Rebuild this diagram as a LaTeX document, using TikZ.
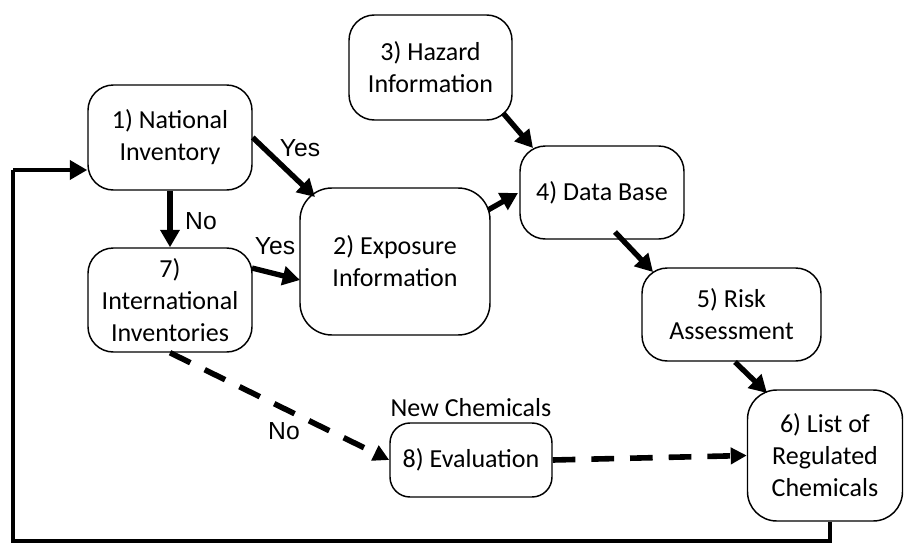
\documentclass[tikz,border=0pt]{standalone}
\usepackage{fontspec}
\setmainfont{Carlito}
\newfontfamily\arialf{Liberation Sans}
\usetikzlibrary{arrows.meta,calc}
\begin{document}
\begin{tikzpicture}[x=0.75pt,y=-0.75pt,
  box/.style={draw=black,line width=1.1pt,rounded corners=19pt,align=center,
    font=\fontsize{19.5}{24}\selectfont,inner sep=2pt},
  arr/.style={line width=4pt,-{Triangle[length=13pt,width=14pt]}},
  darr/.style={line width=4.2pt,dash pattern=on 17pt off 12pt,-{Triangle[length=12pt,width=12pt]}},
  loopline/.style={line width=3.6pt},
  lbl/.style={font=\arialf\fontsize{18.5}{22}\selectfont,inner sep=0pt},
  txt/.style={font=\fontsize{19.5}{24}\selectfont,inner sep=0pt}]
\useasboundingbox (0,0) rectangle (904,543);
\node[box,minimum width=123pt,minimum height=78.75pt] (b1) at (170,137.5) {1) National\\Inventory};
\node[box,minimum width=122.25pt,minimum height=78.75pt] (b3) at (430.5,67.5) {3) Hazard\\Information};
\node[box,minimum width=123pt,minimum height=69.75pt] (b4) at (602,192.5) {4) Data Base};
\node[box,minimum width=142.5pt,minimum height=110.25pt,rounded corners=24pt] (b2) at (395,261.5) {2) Exposure\\Information};
\node[box,minimum width=123pt,minimum height=78pt] (b7) at (170,300) {7)\\International\\Inventories};
\node[box,minimum width=134.25pt,minimum height=69.75pt] (b5) at (731.5,314.5) {5) Risk\\Assessment};
\node[box,minimum width=116.25pt,minimum height=98.25pt,rounded corners=22pt] (b6) at (825,455.5) {6) List of\\Regulated\\Chemicals};
\node[box,minimum width=121.5pt,minimum height=55.5pt,rounded corners=15pt] (b8) at (471,460) {8) Evaluation};
\node[txt] (nc) at (471,408) {New Chemicals};

\draw[arr] (b1.east) -- ($(b2.center)+(-80,-64.5)$);
\draw[arr] (b1.south) -- (b7.north);
\draw[arr] ($(b7.center)+(82,-32)$) -- ($(b2.center)+(-95,18.5)$);
\draw[arr] ($(b2.center)+(93,-51.5)$) -- ($(b4.center)+(-84,0.5)$);
\draw[arr] ($(b3.center)+(72.5,45.5)$) -- ($(b4.center)+(-69,-44.5)$);
\draw[arr] ($(b4.center)+(13,39.5)$) -- ($(b5.center)+(-78.5,-42.5)$);
\draw[arr] ($(b5.center)+(3.5,47.5)$) -- ($(b6.center)+(-58,-62.5)$);
\draw[darr] (b7.south) -- (b8.west);
\draw[darr] (b8.east) -- (b6.west);
\coordinate (c1) at (830,541);
\coordinate (c2) at (13,541);
\coordinate (c3) at (13,170);
\draw[loopline] ($(b6.south)+(5,0)$) -- (c1) -- (c2) -- (c3);
\draw[arr,line width=3.6pt] (c3) -- (b1.west |- c3);

\node[lbl] (y1) at (300,148) {Yes};
\node[lbl] (n1) at (201,221) {No};
\node[lbl] (y2) at (275,246) {Yes};
\node[lbl] (n2) at (284,431) {No};
\end{tikzpicture}
\end{document}
